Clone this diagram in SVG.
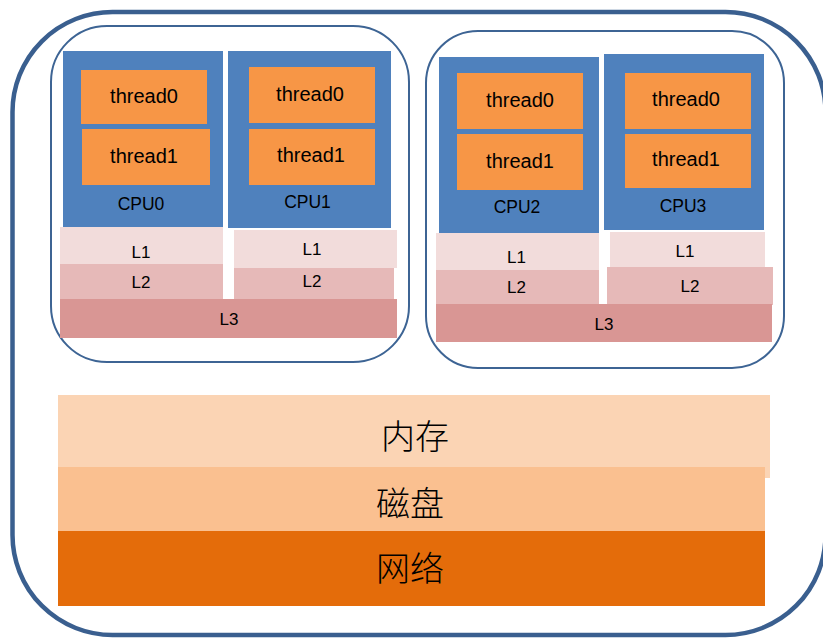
<svg xmlns="http://www.w3.org/2000/svg" width="823" height="639" viewBox="0 0 823 639">
  <style>
    .frame { fill: none; stroke: #3a5f8f; stroke-width: 4.5; }
    .socket { fill: #ffffff; stroke: #3d6494; stroke-width: 2; }
    .cpu { fill: #4f81bd; }
    .thread { fill: #f79646; }
    .l1 { fill: #f2dcdb; }
    .l2 { fill: #e6b9b8; }
    .l3 { fill: #d99694; }
    .mem { fill: #fbd4b4; }
    .disk { fill: #fac090; }
    .net { fill: #e46c0a; }
    text { font-family: "Liberation Sans", Arial, sans-serif; fill: #000000; text-anchor: middle; }
    .tt { font-size: 20px; }
    .ct { font-size: 17.5px; }
    .lt { font-size: 17px; }
    .zh { font-family: "Noto Sans CJK SC", "Noto Sans CJK TC", sans-serif; font-size: 34px; font-weight: 300; }
  </style>

  <!-- machine boundary -->
  <rect id="machine" class="frame" x="12.5" y="12" width="813" height="623" rx="100" ry="100"/>

  <!-- socket 0: CPU0 + CPU1 sharing L3 -->
  <g id="socket0">
    <rect class="socket" x="51" y="26" width="358" height="336" rx="56" ry="56"/>
    <g id="cpu0">
      <rect class="cpu" x="63" y="51" width="160" height="176"/>
      <rect class="thread" x="81" y="70" width="126" height="54"/>
      <text class="tt" x="144" y="103">thread0</text>
      <rect class="thread" x="82" y="129" width="128" height="56"/>
      <text class="tt" x="144" y="163">thread1</text>
      <text class="ct" x="141" y="210">CPU0</text>
      <rect class="l1" x="60" y="227" width="163" height="37"/>
      <text class="lt" x="141" y="258">L1</text>
      <rect class="l2" x="60" y="264" width="163" height="35"/>
      <text class="lt" x="141" y="288">L2</text>
    </g>
    <g id="cpu1">
      <rect class="cpu" x="228" y="51" width="163" height="177"/>
      <rect class="thread" x="249" y="67" width="126" height="56"/>
      <text class="tt" x="310" y="101">thread0</text>
      <rect class="thread" x="249" y="129" width="126" height="56"/>
      <text class="tt" x="311" y="162">thread1</text>
      <text class="ct" x="307.5" y="208">CPU1</text>
      <rect class="l1" x="234" y="230" width="163" height="38"/>
      <text class="lt" x="312" y="255">L1</text>
      <rect class="l2" x="234" y="268" width="160" height="31"/>
      <text class="lt" x="312" y="287">L2</text>
    </g>
    <g id="l3-socket0">
      <rect class="l3" x="60" y="299" width="337" height="39"/>
      <text class="lt" x="229" y="325">L3</text>
    </g>
  </g>

  <!-- socket 1: CPU2 + CPU3 sharing L3 -->
  <g id="socket1">
    <rect class="socket" x="426" y="31" width="358" height="337" rx="52" ry="52"/>
    <g id="cpu2">
      <rect class="cpu" x="439" y="57" width="160" height="176"/>
      <rect class="thread" x="457" y="73" width="126" height="56"/>
      <text class="tt" x="520" y="107">thread0</text>
      <rect class="thread" x="457" y="134" width="126" height="56"/>
      <text class="tt" x="520" y="168">thread1</text>
      <text class="ct" x="517" y="213">CPU2</text>
      <rect class="l1" x="436" y="233" width="163" height="37"/>
      <text class="lt" x="516.5" y="263">L1</text>
      <rect class="l2" x="436" y="270" width="163" height="34"/>
      <text class="lt" x="516.5" y="293">L2</text>
    </g>
    <g id="cpu3">
      <rect class="cpu" x="604" y="54" width="160" height="176"/>
      <rect class="thread" x="625" y="73" width="126" height="56"/>
      <text class="tt" x="686" y="106">thread0</text>
      <rect class="thread" x="625" y="134" width="126" height="54"/>
      <text class="tt" x="686" y="166">thread1</text>
      <text class="ct" x="683" y="212">CPU3</text>
      <rect class="l1" x="610" y="232" width="155" height="38"/>
      <text class="lt" x="685" y="257">L1</text>
      <rect class="l2" x="607" y="267" width="166" height="38"/>
      <text class="lt" x="690" y="292">L2</text>
    </g>
    <g id="l3-socket1">
      <rect class="l3" x="436" y="304" width="336" height="38"/>
      <text class="lt" x="604" y="330">L3</text>
    </g>
  </g>

  <!-- storage tiers -->
  <g id="memory">
    <rect class="mem" x="58" y="395" width="712" height="83"/>
    <text class="zh" x="415" y="449">内存</text>
  </g>
  <g id="disk">
    <rect class="disk" x="58" y="467" width="707" height="64"/>
    <text class="zh" x="410" y="516">磁盘</text>
  </g>
  <g id="network">
    <rect class="net" x="58" y="531" width="707" height="75"/>
    <text class="zh" x="410" y="581">网络</text>
  </g>

  <g id="connectors"/>
</svg>
